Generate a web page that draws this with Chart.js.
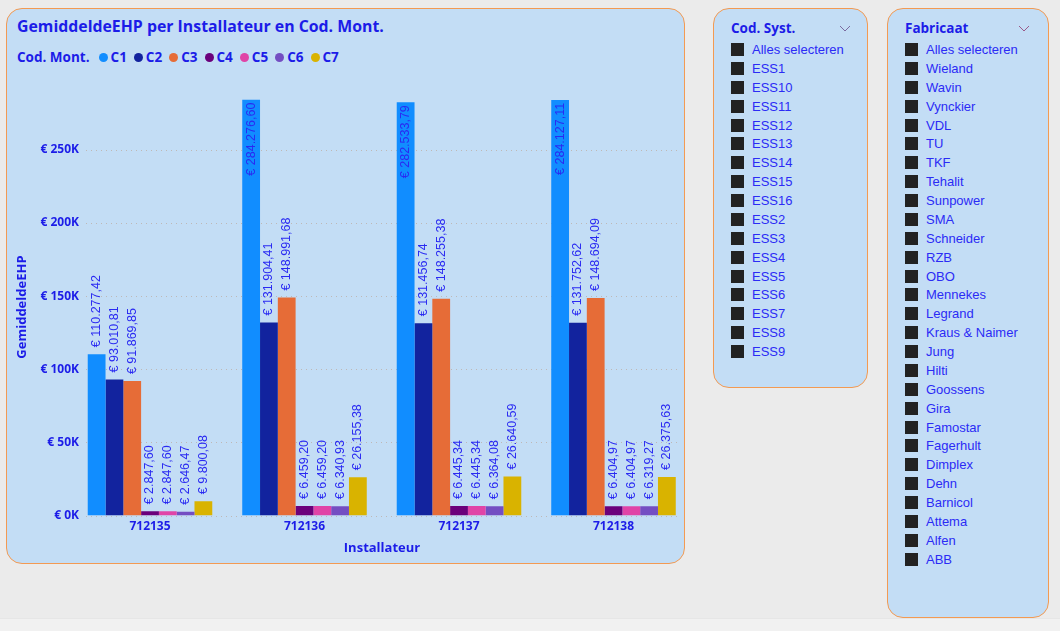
<!DOCTYPE html>
<html>
<head>
<meta charset="utf-8">
<script src="https://cdn.jsdelivr.net/npm/chart.js@4/dist/chart.umd.min.js"></script>
<style>
  html,body{margin:0;padding:0;}
  body{width:1060px;height:631px;background:#ebebeb;position:relative;overflow:hidden;font-family:"Liberation Sans",Arial,sans-serif;}
  .panel{position:absolute;box-sizing:border-box;border:1px solid #f39a52;border-radius:16px;background:#c3ddf5;}
  #title{position:absolute;left:17px;top:15px;font-family:"Open Sans","Noto Sans",sans-serif;font-weight:700;font-size:15.85px;color:#1c1ce8;white-space:nowrap;}
  #legend{position:absolute;left:17px;top:48px;display:flex;align-items:center;font-family:"Open Sans","Noto Sans",sans-serif;font-weight:700;font-size:13.5px;color:#1c1ce8;white-space:nowrap;}
  #legend .lab{margin-right:9px;}
  #legend .item{display:flex;align-items:center;margin-right:7px;}
  #legend .dot{width:9px;height:9px;border-radius:50%;margin-right:3px;}
  .sl-head{position:absolute;font-family:"Open Sans","Noto Sans",sans-serif;font-weight:700;font-size:13.5px;color:#1c1ce8;white-space:nowrap;}
  .sl-item{position:absolute;height:19px;display:flex;align-items:center;font-size:13px;color:#2b2bf5;white-space:nowrap;}
  .sl-item .sq{width:13px;height:13px;background:#222;margin-right:8px;}
  canvas{position:absolute;left:0;top:0;}
  #strip{position:absolute;left:0;top:618px;width:1060px;height:13px;background:#f1f1f1;border-top:1px solid #e6e6e6;}
</style>
</head>
<body>
<div id="strip"></div>
<div class="panel" style="left:6px;top:8px;width:679px;height:556px;"></div>
<div class="panel" style="left:713px;top:8px;width:155px;height:380px;"></div>
<div class="panel" style="left:887px;top:8px;width:162px;height:610px;"></div>
<div id="title">GemiddeldeEHP per Installateur en Cod. Mont.</div>
<div id="legend"></div>
<div id="slicers"></div>
<canvas id="c" width="720" height="600"></canvas>
<script>
// ---- data ----
const categories = ['712135', '712136', '712137', '712138'];
const seriesNames = ['C1', 'C2', 'C3', 'C4', 'C5', 'C6', 'C7'];
const c1 = [110277.42, 284276.60, 282533.79, 284127.11];
const c2 = [93010.81, 131904.41, 131456.74, 131752.62];
const c3 = [91869.85, 148991.68, 148255.38, 148694.09];
const c4 = [2847.60, 6459.20, 6445.34, 6404.97];
const c5 = [2847.60, 6459.20, 6445.34, 6404.97];
const c6 = [2646.47, 6340.93, 6364.08, 6319.27];
const c7 = [9800.08, 26155.38, 26640.59, 26375.63];
const seriesValues = [c1, c2, c3, c4, c5, c6, c7];
const seriesColors = ['#118dff', '#12239e', '#e66c37', '#6b007b', '#e044a7', '#744ec2', '#d9b300'];
const yTicks = [0, 50000, 100000, 150000, 200000, 250000];
const codSyst = ['Alles selecteren','ESS1','ESS10','ESS11','ESS12','ESS13','ESS14','ESS15','ESS16','ESS2','ESS3','ESS4','ESS5','ESS6','ESS7','ESS8','ESS9'];
const fabricaat = ['Alles selecteren','Wieland','Wavin','Vynckier','VDL','TU','TKF','Tehalit','Sunpower','SMA','Schneider','RZB','OBO','Mennekes','Legrand','Kraus & Naimer','Jung','Hilti','Goossens','Gira','Famostar','Fagerhult','Dimplex','Dehn','Barnicol','Attema','Alfen','ABB'];

const TEXT = '#1c1ce8';

// legend
const leg = document.getElementById('legend');
leg.innerHTML = '<span class="lab">Cod. Mont.</span>' + seriesNames.map((n, i) =>
  `<span class="item"><span class="dot" style="background:${seriesColors[i]}"></span>${n}</span>`).join('');

// slicers
function chevron(x, y, col) {
  return `<svg style="position:absolute;left:${x}px;top:${y}px" width="12" height="8"><polyline points="1,1 6,6 11,1" fill="none" stroke="${col}" stroke-width="1"/></svg>`;
}
let sh = '';
sh += `<div class="sl-head" style="left:731px;top:19px">Cod. Syst.</div>` + chevron(839, 25, '#7a6aa0');
codSyst.forEach((t, i) => { sh += `<div class="sl-item" style="left:731px;top:${40 + i * 18.88}px"><span class="sq"></span>${t}</div>`; });
sh += `<div class="sl-head" style="left:905px;top:19px">Fabricaat</div>` + chevron(1018, 25, '#9a5a8a');
fabricaat.forEach((t, i) => { sh += `<div class="sl-item" style="left:905px;top:${40 + i * 18.88}px"><span class="sq"></span>${t}</div>`; });
document.getElementById('slicers').innerHTML = sh;

function fmt(v) {
  const parts = v.toFixed(2).split('.');
  const int = parts[0].replace(/\B(?=(\d{3})+(?!\d))/g, '.');
  return '€ ' + int + ',' + parts[1];
}

const gridPlugin = {
  id: 'dottedGrid',
  beforeDatasetsDraw(chart) {
    const ctx = chart.ctx, y = chart.scales.y;
    ctx.save();
    ctx.strokeStyle = 'rgba(190,180,175,0.9)';
    ctx.lineWidth = 1;
    ctx.setLineDash([1, 4]);
    yTicks.forEach(t => {
      const py = Math.round(y.getPixelForValue(t)) + 0.5;
      ctx.beginPath(); ctx.moveTo(86, py); ctx.lineTo(680, py); ctx.stroke();
    });
    ctx.restore();
  }
};

const labelPlugin = {
  id: 'barLabels',
  afterDatasetsDraw(chart) {
    const ctx = chart.ctx;
    ctx.save();
    ctx.font = '12.5px "Liberation Sans", Arial, sans-serif';
    ctx.fillStyle = '#2a2af2';
    ctx.textBaseline = 'middle';
    chart.data.datasets.forEach((ds, di) => {
      const meta = chart.getDatasetMeta(di);
      meta.data.forEach((bar, i) => {
        const txt = fmt(seriesValues[di][i]);
        const w = ctx.measureText(txt).width;
        ctx.save();
        ctx.translate(bar.x, bar.y);
        ctx.rotate(-Math.PI / 2);
        if (bar.y - 7 - w < chart.chartArea.top - 20) {
          ctx.textAlign = 'right';
          ctx.fillText(txt, -3, 0);
        } else {
          ctx.textAlign = 'left';
          ctx.fillText(txt, 7, 0);
        }
        ctx.restore();
      });
    });
    ctx.restore();
  }
};

const fontFam = '"Open Sans","Noto Sans",sans-serif';

new Chart(document.getElementById('c'), {
  type: 'bar',
  data: {
    datasets: seriesNames.map((n, i) => ({
      label: n,
      data: categories.map((c, k) => ({ x: k, y: seriesValues[i][k] })),
      backgroundColor: seriesColors[i],
      borderWidth: 0,
      categoryPercentage: 0.806,
      barPercentage: 1.0
    }))
  },
  options: {
    responsive: false,
    animation: false,
    devicePixelRatio: 1,
    layout: { padding: { left: 0, right: 36, top: 98.6, bottom: 40 } },
    plugins: { legend: { display: false }, tooltip: { enabled: false } },
    scales: {
      x: {
        type: 'linear',
        min: -0.4531, max: 3.4563,
        offset: false,
        grid: { display: false, drawTicks: false },
        border: { display: false },
        afterBuildTicks(s) { s.ticks = categories.map((c, k) => ({ value: k })); },
        ticks: {
          color: TEXT, padding: 4,
          font: { family: fontFam, weight: 'bold', size: 12 },
          callback: v => categories[v]
        },
        title: { display: true, text: 'Installateur', color: TEXT, font: { family: fontFam, weight: 'bold', size: 13 }, padding: { top: 0, bottom: 4 } },
        afterFit(s) { s.height = 44.5; }
      },
      y: {
        min: 0, max: 285000,
        grid: { display: false, drawTicks: false },
        border: { display: false },
        afterBuildTicks(s) { s.ticks = yTicks.map(v => ({ value: v })); },
        ticks: {
          color: TEXT, padding: 1,
          font: { family: fontFam, weight: 'bold', size: 12 },
          callback: v => '€ ' + (v / 1000) + 'K'
        },
        title: { display: true, text: 'GemiddeldeEHP', color: TEXT, font: { family: fontFam, weight: 'bold', size: 13 }, padding: { top: 14, bottom: 0 } },
        afterFit(s) { s.width = 80; }
      }
    }
  },
  plugins: [gridPlugin, labelPlugin]
});
</script>
</body>
</html>
